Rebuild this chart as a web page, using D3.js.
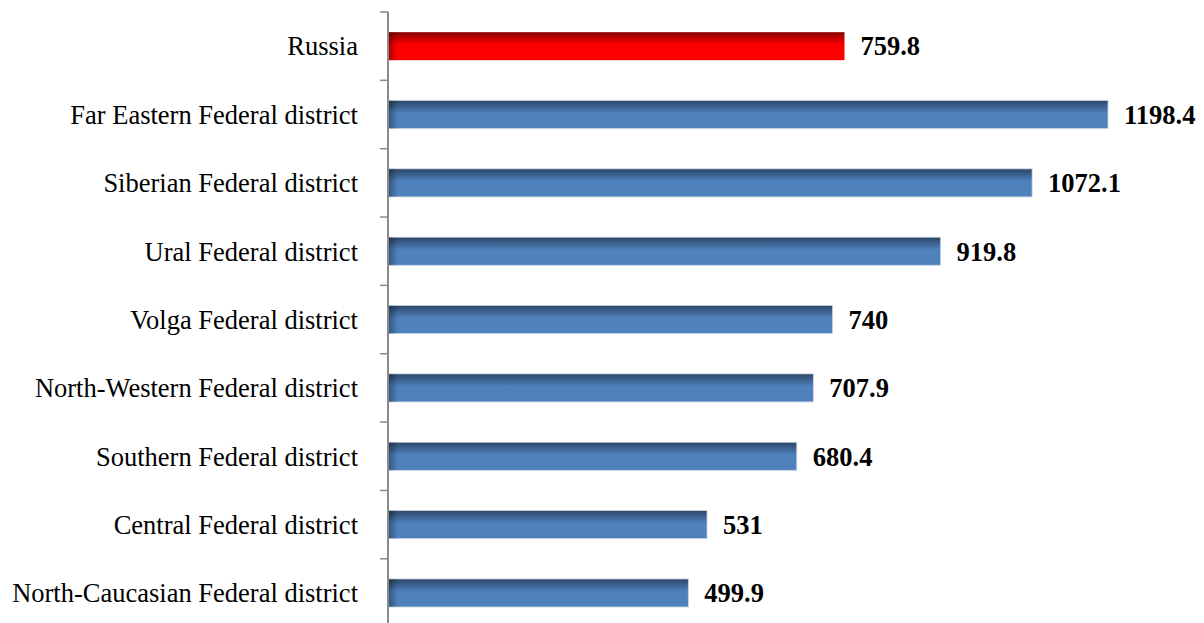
<!DOCTYPE html>
<html><head><meta charset="utf-8">
<script src="https://cdn.jsdelivr.net/npm/d3@7"></script>
<style>body{margin:0;background:#fff}</style>
</head><body>
<svg id="chart" width="1204" height="623"></svg>
<script>
const categories = ["Russia","Far Eastern Federal district","Siberian Federal district","Ural Federal district","Volga Federal district","North-Western Federal district","Southern Federal district","Central Federal district","North-Caucasian Federal district"];
const values = [759.8,1198.4,1072.1,919.8,740,707.9,680.4,531,499.9];
const labels = ["759.8","1198.4","1072.1","919.8","740","707.9","680.4","531","499.9"];

const svg = d3.select("#chart");
const x = d3.scaleLinear().domain([0,1400]).range([388, 388 + 1400*0.6008]);
const y = d3.scaleBand().domain(categories).range([12, 12 + 9*68.35]).paddingInner(0.59).paddingOuter(0.295);

const defs = svg.append("defs");
function vgrad(id, dark, main){
  const g = defs.append("linearGradient").attr("id",id).attr("x1",0).attr("y1",0).attr("x2",0).attr("y2",1);
  g.append("stop").attr("offset","0%").attr("stop-color",dark);
  g.append("stop").attr("offset","45%").attr("stop-color",main);
  g.append("stop").attr("offset","100%").attr("stop-color",main);
}
vgrad("gBlue","#2b4566","#4f81bd");
vgrad("gRed","#8a0000","#ff0000");
const sh = defs.append("linearGradient").attr("id","gShadow").attr("x1",0).attr("y1",0).attr("x2",1).attr("y2",0);
sh.append("stop").attr("offset","0%").attr("stop-color","#000").attr("stop-opacity",0.35);
sh.append("stop").attr("offset","100%").attr("stop-color","#000").attr("stop-opacity",0);

const data = categories.map((c,i)=>({c, v:values[i], l:labels[i], i}));

const bars = svg.append("g");
bars.selectAll("rect.bar").data(data).join("rect").attr("class","bar")
  .attr("x", x(0)).attr("y", d=>y(d.c)).attr("height", y.bandwidth())
  .attr("width", d=>x(d.v)-x(0))
  .attr("fill", d=>d.i===0?"url(#gRed)":"url(#gBlue)")
  .attr("stroke", d=>d.i===0?"none":"#c9d3e0").attr("stroke-width",0.8);
bars.selectAll("rect.sh").data(data).join("rect").attr("class","sh")
  .attr("x", x(0)).attr("y", d=>y(d.c)).attr("height", y.bandwidth())
  .attr("width", 10).attr("fill","url(#gShadow)");

// axis
const axis = svg.append("g").attr("transform",`translate(${x(0)},0)`);
axis.append("line").attr("x1",0).attr("x2",0).attr("y1",12).attr("y2",640).attr("stroke","#8a8a8a").attr("stroke-width",2);
axis.selectAll("line.tick").data(d3.range(categories.length+1)).join("line").attr("class","tick")
  .attr("x1",-8).attr("x2",0)
  .attr("y1", i=> y.range()[0] + i*y.step()).attr("y2", i=> y.range()[0] + i*y.step())
  .attr("stroke","#8a8a8a").attr("stroke-width",1.5);

svg.append("g").selectAll("text.cat").data(data).join("text").attr("class","cat")
  .attr("x", 358).attr("y", d=>y(d.c)+y.bandwidth()/2).attr("dy","0.35em")
  .attr("text-anchor","end").attr("font-family","'Liberation Serif','Times New Roman',serif")
  .attr("font-size","26.5px").attr("fill","#000").text(d=>d.c);

svg.append("g").selectAll("text.val").data(data).join("text").attr("class","val")
  .attr("x", d=>x(d.v)+16).attr("y", d=>y(d.c)+y.bandwidth()/2).attr("dy","0.35em")
  .attr("font-family","'Liberation Serif','Times New Roman',serif").attr("font-weight","bold")
  .attr("font-size","26.5px").attr("fill","#000").text(d=>d.l);
</script>
</body></html>
